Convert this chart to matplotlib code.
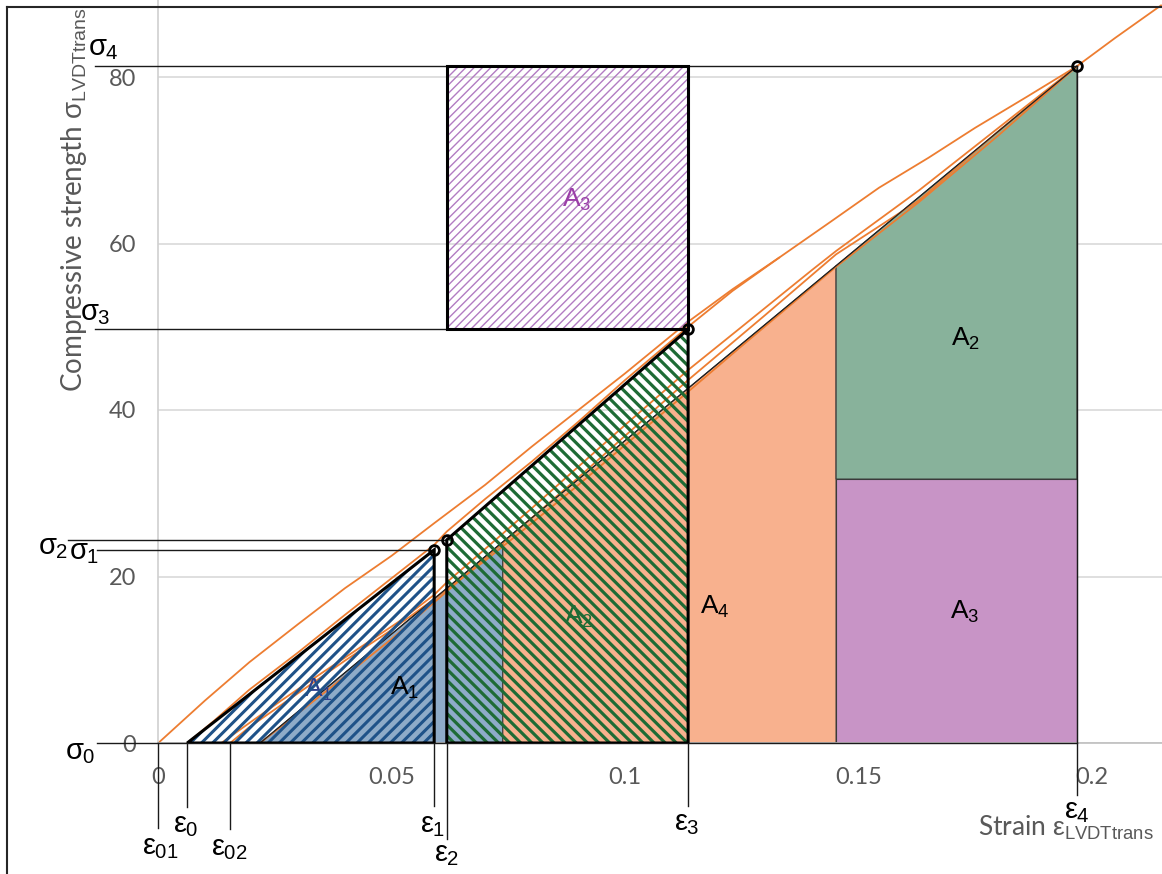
import matplotlib
matplotlib.use("Agg")
import matplotlib.pyplot as plt
from matplotlib.patches import Polygon
from matplotlib.lines import Line2D

plt.rcParams['font.family'] = ['Liberation Sans', 'DejaVu Sans']
plt.rcParams['mathtext.fontset'] = 'custom'
plt.rcParams['mathtext.rm'] = 'Liberation Sans'
plt.rcParams['mathtext.it'] = 'Liberation Sans'
plt.rcParams['mathtext.bf'] = 'Liberation Sans:bold'

# characteristic strains / stresses
eps01, eps0, eps02 = 0.0, 0.0062, 0.0154
eps1, eps2, eps3, eps4 = 0.0591, 0.0618, 0.1135, 0.1968
sig0, sig1, sig2, sig3, sig4 = 0.0, 23.2, 24.4, 49.7, 81.3
eps_fit0 = 0.0218            # secant line hits zero stress here
eps_cut = [0.0738, 0.1452]   # vertical boundaries of the solid areas
sig_cut = 31.7               # boundary between lower A3 and upper A2

# measured curves (strain, stress)
curve_a_x = [0, 0.01, 0.0195, 0.03, 0.04, 0.05, 0.0591, 0.07, 0.08, 0.09, 0.10, 0.1135,
             0.123, 0.133, 0.144, 0.1544, 0.165, 0.175, 0.186, 0.1968, 0.205, 0.2148]
curve_a_y = [0, 5.1, 9.7, 14.3, 18.6, 22.5, 26.4, 31.0, 35.6, 40.0, 44.4, 50.6,
             54.5, 58.3, 62.6, 66.7, 70.3, 73.9, 77.6, 81.3, 84.7, 88.6]
curve_b_x = [0.0062, 0.012, 0.0195, 0.03, 0.04, 0.05, 0.0591, 0.0618, 0.07, 0.08, 0.09,
             0.10, 0.1135, 0.123, 0.133]
curve_b_y = [0, 2.7, 6.4, 10.9, 15.4, 19.8, 23.8, 25.4, 29.3, 33.8, 38.6,
             43.6, 50.0, 54.3, 58.3]
curve_c_x = [0.0154, 0.0195, 0.03, 0.04, 0.05, 0.0591, 0.07, 0.08, 0.09, 0.10, 0.1135,
             0.125, 0.1452, 0.163, 0.18, 0.1968]
curve_c_y = [0, 1.9, 6.0, 9.9, 13.6, 17.3, 21.9, 26.4, 31.0, 35.8, 42.2,
             47.7, 57.2, 65.0, 73.0, 81.3]
curve_d_x = [0.0135, 0.02, 0.0266, 0.035, 0.0516, 0.0591, 0.0618, 0.07, 0.08, 0.09, 0.10,
             0.1135, 0.125, 0.14, 0.1452, 0.163, 0.18, 0.1968]
curve_d_y = [0, 2.6, 5.2, 8.4, 14.6, 17.8, 19.3, 23.3, 28.2, 33.2, 38.2,
             44.8, 50.0, 56.8, 59.1, 66.4, 73.9, 81.3]
curve_e_x = [0.0218, 0.035, 0.05, 0.0618, 0.075, 0.09, 0.10, 0.1135, 0.13, 0.1452,
             0.163, 0.18, 0.1968]
curve_e_y = [0, 5.8, 12.5, 18.2, 24.6, 31.9, 36.9, 43.6, 51.4, 58.7,
             65.2, 73.5, 81.3]
curves = [(curve_a_x, curve_a_y), (curve_b_x, curve_b_y), (curve_c_x, curve_c_y),
          (curve_d_x, curve_d_y), (curve_e_x, curve_e_y)]

x_ticks = [0, 0.05, 0.1, 0.15, 0.2]
x_ticklabels = ['0', '0.05', '0.1', '0.15', '0.2']
y_ticks = [0, 20, 40, 60, 80]
y_ticklabels = ['0', '20', '40', '60', '80']

gray_txt = '#595959'
orange = '#ed7d31'


def secant(x):
    return sig4 * (x - eps_fit0) / (eps4 - eps_fit0)


class HatchPolygon(Polygon):
    """Polygon whose hatch lines get their own width."""

    def __init__(self, *args, hatch_lw=1.0, **kwargs):
        with plt.rc_context({'hatch.linewidth': hatch_lw}):
            super().__init__(*args, **kwargs)
        self._hlw = hatch_lw
        if hasattr(self, 'set_hatch_linewidth'):
            self.set_hatch_linewidth(hatch_lw)

    def draw(self, renderer):
        with plt.rc_context({'hatch.linewidth': self._hlw}):
            super().draw(renderer)


W, H = 1162, 874
fig = plt.figure(figsize=(W / 100, H / 100), dpi=100)
x0_px, y0_px = 158.3, 743
ax = fig.add_axes([x0_px / W, (H - y0_px) / H, 1 - x0_px / W, y0_px / H])
ax.set_xlim(0, (W - x0_px) / 4668)
ax.set_ylim(0, y0_px / 8.325)

for s in ['top', 'right']:
    ax.spines[s].set_visible(False)
ax.spines['left'].set_color('#d0d0d0')
ax.spines['left'].set_linewidth(1.2)
ax.spines['bottom'].set_color('#bfbfbf')
ax.spines['bottom'].set_linewidth(1.2)
ax.set_xticks(x_ticks)
ax.set_xticklabels(x_ticklabels)
ax.set_yticks(y_ticks)
ax.set_yticklabels(y_ticklabels)
ax.tick_params(length=0, labelsize=17, labelcolor=gray_txt)
ax.tick_params(axis='x', pad=17)
ax.tick_params(axis='y', pad=16)
for lab in ax.get_xticklabels() + ax.get_yticklabels():
    lab.set_family('Lato')
ax.yaxis.grid(True, color='#d9d9d9', lw=1.2, zorder=0)
ax.set_axisbelow(True)

# solid areas under the secant line
fills = [
    ([(eps_fit0, 0), (eps_cut[0], secant(eps_cut[0])), (eps_cut[0], 0)], '#8eabc8'),
    ([(eps_cut[0], 0), (eps_cut[0], secant(eps_cut[0])), (eps_cut[1], secant(eps_cut[1])),
      (eps_cut[1], 0)], '#f8b18e'),
    ([(eps_cut[1], sig_cut), (eps_cut[1], secant(eps_cut[1])), (eps4, sig4), (eps4, sig_cut)],
     '#88b29b'),
    ([(eps_cut[1], 0), (eps_cut[1], sig_cut), (eps4, sig_cut), (eps4, 0)], '#c894c6'),
]
for verts, col in fills:
    ax.add_patch(Polygon(verts, closed=True, facecolor=col, edgecolor='#3a3a3a',
                         lw=0.8, zorder=1))

for cx, cy in curves:
    ax.plot(cx, cy, color=orange, lw=1.3, zorder=2)

ax.plot([eps_fit0, eps4], [0, sig4], color='#222222', lw=0.9, zorder=2.5)

# labels sitting underneath the hatching
ax.text(0.0343, 6.4, '$A_1$', color='#2f3f8c', fontsize=19, ha='center', va='center',
        zorder=2.8)
ax.text(0.0899, 15.1, '$A_2$', color='#1e6b35', fontsize=19, ha='center', va='center',
        zorder=2.8)


def hatched(verts, color, hatch, hlw):
    ax.add_patch(HatchPolygon(verts, closed=True, facecolor='none', edgecolor=color, lw=0,
                              hatch=hatch, hatch_lw=hlw, zorder=3))
    ax.add_patch(Polygon(verts, closed=True, facecolor='none', edgecolor='black',
                         lw=2.2, zorder=4, joinstyle='miter'))


tri1 = [(eps0, 0), (eps1, sig1), (eps1, 0)]
quad2 = [(eps2, 0), (eps2, sig2), (eps3, sig3), (eps3, 0)]
rect3 = [(eps2, sig3), (eps2, sig4), (eps3, sig4), (eps3, sig3)]
hatched(tri1, '#1f5288', '///', 2.2)
hatched(quad2, '#1e6b35', '\\\\\\', 2.3)
hatched(rect3, '#b27cc2', '////', 1.0)

# guide lines to the axis annotations
line_kw = dict(color='#1a1a1a', lw=1.0, zorder=3.5, clip_on=False)
sig_lines = [(sig0, -0.0131, eps4), (sig1, -0.0131, eps1), (sig2, -0.0193, eps2),
             (sig3, -0.0136, eps3), (sig4, -0.0136, eps4)]
for yv, xa, xb in sig_lines:
    ax.plot([xa, xb], [yv, yv], **line_kw)
eps_lines = [(eps01, -10.2), (eps0, -7.7), (eps02, -10.3), (eps1, -7.6), (eps2, -11.5),
             (eps3, -7.6), (eps4, -6.2)]
for xv, yb in eps_lines:
    ax.plot([xv, xv], [0, yb], **line_kw)
ax.plot([eps4, eps4], [0, sig4], color='#1a1a1a', lw=1.0, zorder=3.5)

ax.plot([eps1, eps2, eps3, eps4], [sig1, sig2, sig3, sig4], ls='none', marker='o',
        ms=7, mfc='none', mec='black', mew=2.0, zorder=5)

# annotation text
big = 21
sig_labels = [('$σ_4$', -0.0118, 83.5), ('$σ_3$', -0.0136, 51.6), ('$σ_2$', -0.0226, 23.5),
              ('$σ_1$', -0.0159, 23.0), ('$σ_0$', -0.0168, -1.1)]
eps_labels = [('$ε_{01}$', 0.0004, -12.5), ('$ε_0$', 0.0059, -9.9), ('$ε_{02}$', 0.0151, -12.6),
              ('$ε_1$', 0.0588, -9.9), ('$ε_2$', 0.0618, -13.3), ('$ε_3$', 0.1132, -9.6),
              ('$ε_4$', 0.1968, -8.2)]
for txt, xv, yv in sig_labels + eps_labels:
    ax.text(xv, yv, txt, fontsize=big, ha='center', va='center', color='black', zorder=6)

area_labels = [('$A_3$', 0.0897, 65.2, '#9b3fa8'), ('$A_1$', 0.0528, 6.6, 'black'),
               ('$A_4$', 0.1192, 16.3, 'black'), ('$A_2$', 0.1728, 48.6, 'black'),
               ('$A_3$', 0.1728, 15.7, 'black')]
for txt, xv, yv, col in area_labels:
    ax.text(xv, yv, txt, fontsize=19, ha='center', va='center', color=col, zorder=6)

fig.text(74 / W, 1 - 200 / H, r'Compressive strength $σ_{\mathrm{LVDTtrans}}$', rotation=90,
         ha='center', va='center', fontsize=20, color=gray_txt, family='Lato')
fig.text(1066 / W, 1 - 828 / H, r'Strain $ε_{\mathrm{LVDTtrans}}$',
         ha='center', va='center', fontsize=19, color=gray_txt, family='Lato')

# outer frame
fx, fy = 7 / W, 1 - 7 / H
fig.add_artist(Line2D([fx, 1], [fy, fy], transform=fig.transFigure, color='#262626', lw=1.5))
fig.add_artist(Line2D([fx, fx], [0, fy], transform=fig.transFigure, color='#262626', lw=1.5))

fig.savefig('out.png', dpi=100)
